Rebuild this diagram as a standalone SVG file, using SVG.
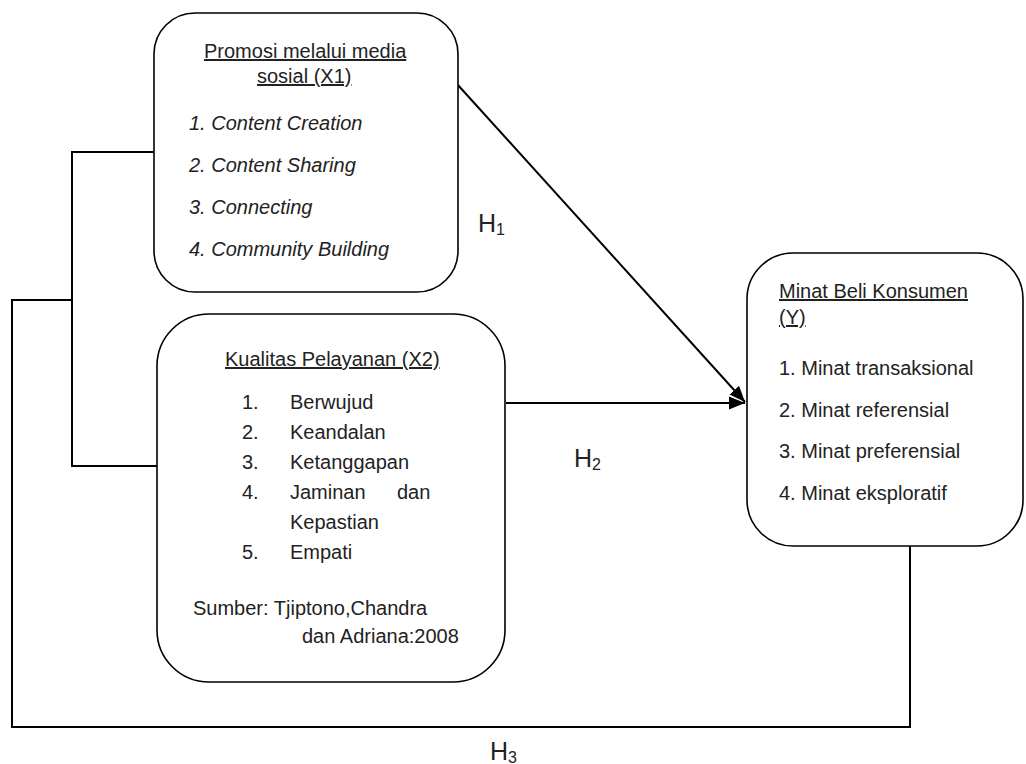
<svg xmlns="http://www.w3.org/2000/svg" width="1026" height="764" viewBox="0 0 1026 764">
<defs>
<style>
.box{fill:#fff;stroke:#000;stroke-width:1.6}
.t{font-family:"Liberation Sans",Arial,sans-serif;font-size:20px;fill:#222}
.i{font-style:italic}
.u{text-decoration:underline}
.h{font-family:"Liberation Sans",Arial,sans-serif;font-size:25px;fill:#222}
.c{fill:none;stroke:#000;stroke-width:2}
</style>
<marker id="ah" viewBox="0 0 10 10" refX="10" refY="5" markerWidth="8" markerHeight="8" markerUnits="strokeWidth" orient="auto">
<path d="M0,1 L10,5 L0,9 z" fill="#000"/>
</marker>
</defs>
<rect width="1026" height="764" fill="#fff"/>
<g id="connectors">
<polyline class="c" points="154,152 72,152 72,466 157,466"/>
<polyline class="c" points="72,300 12,300 12,727 910,727 910,546"/>
<line class="c" x1="457" y1="84" x2="745" y2="402" marker-end="url(#ah)"/>
<line class="c" x1="506" y1="403" x2="745" y2="403" marker-end="url(#ah)"/>
</g>
<g id="x1">
<rect class="box" x="154" y="13" width="304" height="279" rx="41" ry="41"/>
<text class="t u" x="204" y="58">Promosi melalui media</text>
<text class="t u" x="257" y="83">sosial (X1)</text>
<text class="t i" x="189" y="130">1. Content Creation</text>
<text class="t i" x="189" y="172">2. Content Sharing</text>
<text class="t i" x="189" y="214">3. Connecting</text>
<text class="t i" x="189" y="256">4. Community Building</text>
</g>
<g id="x2">
<rect class="box" x="157" y="314" width="348" height="368" rx="52" ry="52"/>
<text class="t u" x="225" y="366">Kualitas Pelayanan (X2)</text>
<text class="t" x="242" y="409">1.</text><text class="t" x="290" y="409">Berwujud</text>
<text class="t" x="242" y="439">2.</text><text class="t" x="290" y="439">Keandalan</text>
<text class="t" x="242" y="469">3.</text><text class="t" x="290" y="469">Ketanggapan</text>
<text class="t" x="242" y="499">4.</text><text class="t" x="290" y="499">Jaminan</text><text class="t" x="397" y="499">dan</text>
<text class="t" x="290" y="529">Kepastian</text>
<text class="t" x="242" y="559">5.</text><text class="t" x="290" y="559">Empati</text>
<text class="t" x="193" y="615">Sumber: Tjiptono,Chandra</text>
<text class="t" x="302" y="643">dan Adriana:2008</text>
</g>
<g id="y">
<rect class="box" x="747" y="253" width="276" height="293" rx="46" ry="46"/>
<text class="t u" x="779" y="298">Minat Beli Konsumen</text>
<text class="t u" x="779" y="324">(Y)</text>
<text class="t" x="779" y="375">1. Minat transaksional</text>
<text class="t" x="779" y="417">2. Minat referensial</text>
<text class="t" x="779" y="458">3. Minat preferensial</text>
<text class="t" x="779" y="500">4. Minat eksploratif</text>
</g>
<g id="labels">
<text class="h" x="478" y="232">H<tspan font-size="16" dy="3">1</tspan></text>
<text class="h" x="574" y="467">H<tspan font-size="16" dy="3">2</tspan></text>
<text class="h" x="490" y="760">H<tspan font-size="16" dy="3">3</tspan></text>
</g>
</svg>
